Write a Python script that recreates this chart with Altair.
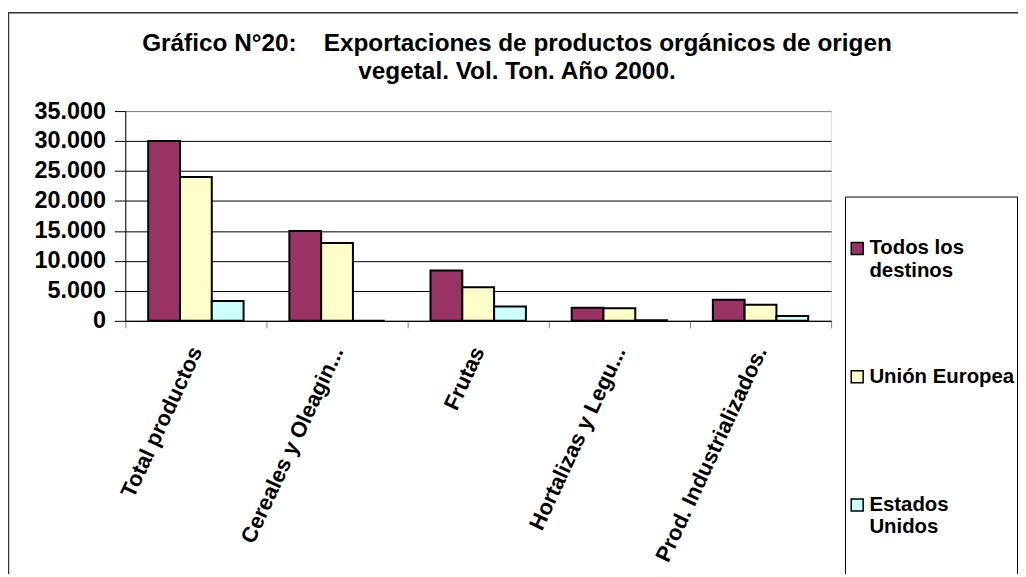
import altair as alt
import pandas as pd

categorias = ["Total productos", "Cereales y Oleagin...", "Frutas", "Hortalizas y Legu...", "Prod. Industrializados."]
series = ["Todos los destinos", "Unión Europea", "Estados Unidos"]
todos = [30000, 15000, 8400, 2200, 3500]
union_europea = [24000, 13000, 5600, 2100, 2700]
estados_unidos = [3300, 0, 2400, 100, 800]
colores = ["#993366", "#FFFFCC", "#CCFFFF"]
ticks_y = [0, 5000, 10000, 15000, 20000, 25000, 30000, 35000]

rows = []
for serie, vals in zip(series, [todos, union_europea, estados_unidos]):
    for cat, v in zip(categorias, vals):
        rows.append({"categoria": cat, "serie": serie, "valor": v})
df = pd.DataFrame(rows)

FONT = "Liberation Sans"
W, H = 1016, 566
PL, PT, PW, PH = 118, 102, 710, 211

legend_expr = (
    "datum.label == 'Todos los destinos' ? ['Todos los', 'destinos'] : "
    "datum.label == 'Unión Europea' ? ['Unión Europea', ''] : ['Estados', 'Unidos', '', '']"
)

bars = alt.Chart(df).mark_bar(stroke="black", strokeWidth=2).encode(
    x=alt.X(
        "categoria:N",
        sort=categorias,
        scale=alt.Scale(paddingInner=0, paddingOuter=0),
        axis=alt.Axis(
            title=None,
            tickBand="extent",
            tickSize=7,
            tickColor="#808080",
            domainColor="black",
            domainWidth=1,
            labelAngle=-65,
            labelAlign="right",
            labelBaseline="middle",
            labelFont=FONT,
            labelFontWeight="bold",
            labelFontSize=22,
            labelColor="black",
            labelPadding=20,
            labelLimit=400,
            grid=False,
        ),
    ),
    xOffset=alt.XOffset("serie:N", sort=series, scale=alt.Scale(paddingInner=0, paddingOuter=0.72)),
    y=alt.Y(
        "valor:Q",
        scale=alt.Scale(domain=[0, 35000], nice=False),
        axis=alt.Axis(
            title=None,
            values=ticks_y,
            labelExpr="replace(format(datum.value, ','), ',', '.')",
            labelFont=FONT,
            labelFontWeight="bold",
            labelFontSize=23.5,
            labelColor="black",
            labelPadding=9,
            tickSize=11,
            tickColor="black",
            domainColor="black",
            domainWidth=1,
            grid=True,
            gridColor={"condition": {"test": "datum.value >= 35000", "value": "#808080"}, "value": "black"},
            gridWidth=1,
        ),
    ),
    color=alt.Color(
        "serie:N",
        sort=series,
        scale=alt.Scale(domain=series, range=colores),
        legend=alt.Legend(
            title=" ",
            titleFontSize=1,
            titlePadding=39,
            orient="none",
            legendX=724,
            legendY=86,
            padding=2,
            strokeColor="black",
            fillColor="white",
            symbolType="square",
            symbolSize=144,
            symbolStrokeColor="black",
            symbolStrokeWidth=1.5,
            labelFont=FONT,
            labelFontWeight="bold",
            labelFontSize=20.5,
            labelColor="black",
            labelOffset=2,
            labelLimit=400,
            rowPadding=85,
            labelExpr=legend_expr,
        ),
    ),
)

frame = alt.Chart(alt.Data(values=[{}])).mark_rect(
    fill="transparent", stroke="#333333", strokeWidth=1.5
).encode(
    x=alt.value(-117.5), x2=alt.value(W - PL + 20), y=alt.value(-99), y2=alt.value(H)
)

chart = alt.layer(bars, frame).properties(
    width=PW,
    height=PH,
    title=alt.TitleParams(
        text=["Gráfico N°20:\u00a0\u00a0\u00a0 Exportaciones de productos orgánicos de origen",
              "vegetal. Vol. Ton. Año 2000."],
        font=FONT,
        fontSize=24.5,
        fontWeight="bold",
        color="black",
        anchor="middle",
        lineHeight=28,
        dx=39,
        dy=73,
        offset=0,
    ),
    autosize=alt.AutoSizeParams(type="none"),
    padding={"left": PL, "top": PT, "right": W - PL - PW, "bottom": H - PT - PH},
).configure_view(
    fill="#C0C0C0", stroke="#808080", strokeWidth=1
).configure(background="white")

chart.save("out.html", embed_options={"renderer": "svg", "actions": False})
